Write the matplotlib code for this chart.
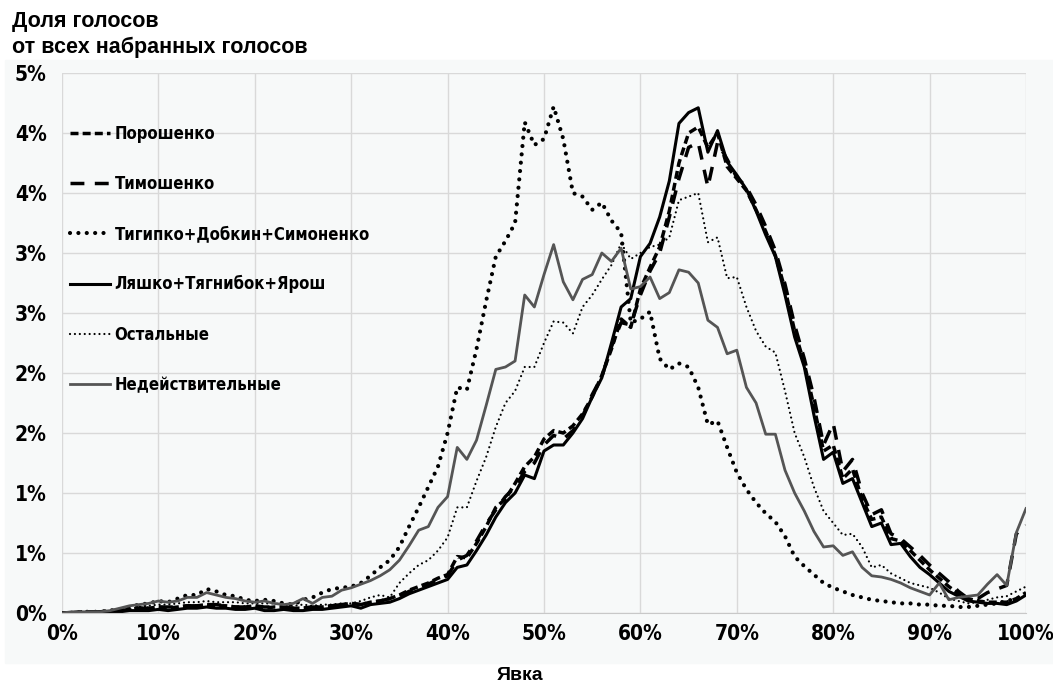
import math
import matplotlib
matplotlib.use('Agg')
import matplotlib.pyplot as plt
from matplotlib import font_manager
from matplotlib.font_manager import FontProperties
from matplotlib.patches import Rectangle
from matplotlib.ticker import FuncFormatter

# Явка, %
turnout = list(range(0, 101))

poroshenko = [0.00, 0.00, 0.01, 0.01, 0.01, 0.02, 0.02, 0.03, 0.04, 0.04,
              0.05, 0.04, 0.05, 0.06, 0.06, 0.07, 0.06, 0.06, 0.05, 0.05,
              0.06, 0.04, 0.05, 0.05, 0.04, 0.04, 0.05, 0.05, 0.06, 0.07,
              0.08, 0.07, 0.09, 0.10, 0.12, 0.15, 0.19, 0.22, 0.25, 0.29,
              0.32, 0.47, 0.46, 0.58, 0.72, 0.88, 0.95, 1.08, 1.22, 1.30,
              1.45, 1.52, 1.50, 1.56, 1.66, 1.80, 1.98, 2.20, 2.45, 2.38,
              2.70, 2.88, 3.05, 3.35, 3.75, 4.00, 4.05, 3.88, 4.00, 3.72,
              3.62, 3.52, 3.36, 3.18, 2.98, 2.70, 2.35, 2.08, 1.72, 1.35,
              1.40, 1.12, 1.20, 0.95, 0.78, 0.80, 0.62, 0.60, 0.52, 0.44,
              0.36, 0.29, 0.22, 0.16, 0.12, 0.10, 0.09, 0.09, 0.09, 0.12,
              0.17]

timoshenko = [0.00, 0.00, 0.01, 0.01, 0.01, 0.02, 0.02, 0.03, 0.04, 0.04,
              0.05, 0.05, 0.05, 0.06, 0.06, 0.07, 0.07, 0.06, 0.05, 0.05,
              0.06, 0.05, 0.05, 0.05, 0.04, 0.04, 0.05, 0.05, 0.06, 0.07,
              0.08, 0.07, 0.09, 0.10, 0.12, 0.14, 0.18, 0.21, 0.24, 0.28,
              0.31, 0.44, 0.48, 0.60, 0.74, 0.86, 0.97, 1.05, 1.18, 1.25,
              1.40, 1.48, 1.45, 1.52, 1.64, 1.82, 1.97, 2.22, 2.42, 2.40,
              2.65, 2.85, 3.00, 3.30, 3.62, 3.88, 3.92, 3.55, 3.92, 3.78,
              3.63, 3.55, 3.40, 3.22, 3.02, 2.74, 2.40, 2.12, 1.80, 1.40,
              1.58, 1.18, 1.28, 1.00, 0.82, 0.86, 0.66, 0.62, 0.55, 0.48,
              0.40, 0.33, 0.26, 0.18, 0.12, 0.12, 0.17, 0.20, 0.23, 0.66,
              0.73]

tigipko = [0.00, 0.00, 0.01, 0.01, 0.01, 0.02, 0.03, 0.05, 0.07, 0.08,
           0.10, 0.09, 0.12, 0.15, 0.15, 0.20, 0.18, 0.15, 0.14, 0.11,
           0.10, 0.11, 0.10, 0.08, 0.07, 0.11, 0.13, 0.17, 0.20, 0.21,
           0.22, 0.25, 0.31, 0.38, 0.44, 0.55, 0.72, 0.88, 1.05, 1.22,
           1.50, 1.88, 1.86, 2.20, 2.60, 2.97, 3.10, 3.25, 4.09, 3.90,
           3.95, 4.22, 3.95, 3.50, 3.47, 3.36, 3.42, 3.27, 3.17, 2.42,
           2.45, 2.51, 2.12, 2.03, 2.08, 2.05, 1.88, 1.57, 1.60, 1.38,
           1.17, 1.03, 0.92, 0.83, 0.76, 0.64, 0.47, 0.39, 0.32, 0.25,
           0.21, 0.18, 0.15, 0.13, 0.11, 0.10, 0.09, 0.08, 0.08, 0.07,
           0.07, 0.06, 0.06, 0.05, 0.05, 0.06, 0.07, 0.08, 0.10, 0.12,
           0.15]

lyashko = [0.00, 0.00, 0.00, 0.00, 0.01, 0.01, 0.01, 0.02, 0.02, 0.02,
           0.03, 0.02, 0.03, 0.04, 0.04, 0.05, 0.04, 0.04, 0.03, 0.03,
           0.04, 0.02, 0.02, 0.03, 0.02, 0.02, 0.03, 0.03, 0.04, 0.05,
           0.06, 0.04, 0.07, 0.08, 0.09, 0.12, 0.16, 0.19, 0.22, 0.25,
           0.28, 0.38, 0.40, 0.52, 0.65, 0.80, 0.92, 1.00, 1.15, 1.12,
           1.35, 1.40, 1.40, 1.50, 1.62, 1.80, 1.96, 2.25, 2.55, 2.62,
           2.97, 3.08, 3.30, 3.60, 4.08, 4.17, 4.21, 3.84, 4.02, 3.76,
           3.65, 3.53, 3.35, 3.15, 2.97, 2.65, 2.30, 2.05, 1.65, 1.28,
           1.34, 1.08, 1.12, 0.92, 0.72, 0.75, 0.57, 0.58, 0.47, 0.38,
           0.32, 0.25, 0.18, 0.14, 0.10, 0.09, 0.08, 0.08, 0.07, 0.10,
           0.15]

others = [0.00, 0.01, 0.01, 0.01, 0.01, 0.01, 0.02, 0.03, 0.05, 0.06,
          0.07, 0.07, 0.08, 0.09, 0.09, 0.10, 0.09, 0.09, 0.09, 0.08,
          0.08, 0.08, 0.08, 0.07, 0.06, 0.07, 0.06, 0.07, 0.07, 0.08,
          0.08, 0.10, 0.13, 0.15, 0.13, 0.25, 0.33, 0.40, 0.44, 0.52,
          0.63, 0.88, 0.88, 1.10, 1.30, 1.55, 1.75, 1.85, 2.05, 2.05,
          2.25, 2.43, 2.42, 2.33, 2.55, 2.65, 2.78, 2.90, 3.08, 2.95,
          3.00, 3.05, 3.07, 3.13, 3.44, 3.47, 3.50, 3.09, 3.13, 2.79,
          2.80, 2.55, 2.35, 2.22, 2.17, 1.85, 1.50, 1.30, 1.05, 0.85,
          0.75, 0.65, 0.66, 0.55, 0.38, 0.40, 0.33, 0.29, 0.25, 0.23,
          0.21, 0.17, 0.12, 0.10, 0.08, 0.09, 0.11, 0.13, 0.14, 0.18,
          0.22]

invalid = [0.00, 0.01, 0.01, 0.01, 0.01, 0.02, 0.04, 0.06, 0.07, 0.08,
           0.10, 0.09, 0.10, 0.13, 0.13, 0.17, 0.15, 0.13, 0.12, 0.10,
           0.09, 0.10, 0.08, 0.07, 0.08, 0.12, 0.08, 0.13, 0.14, 0.19,
           0.21, 0.24, 0.27, 0.31, 0.36, 0.44, 0.56, 0.69, 0.72, 0.88,
           0.97, 1.38, 1.28, 1.44, 1.73, 2.03, 2.05, 2.10, 2.65, 2.55,
           2.82, 3.07, 2.76, 2.61, 2.78, 2.82, 3.00, 2.93, 3.04, 2.70,
           2.72, 2.80, 2.62, 2.67, 2.86, 2.84, 2.75, 2.44, 2.38, 2.16,
           2.19, 1.88, 1.75, 1.49, 1.49, 1.19, 1.00, 0.85, 0.68, 0.55,
           0.56, 0.48, 0.51, 0.38, 0.31, 0.30, 0.28, 0.25, 0.21, 0.18,
           0.15, 0.25, 0.11, 0.13, 0.14, 0.15, 0.24, 0.32, 0.23, 0.67,
           0.87]

x_ticks = [0, 10, 20, 30, 40, 50, 60, 70, 80, 90, 100]
y_ticks = [0, 0.5, 1.0, 1.5, 2.0, 2.5, 3.0, 3.5, 4.0, 4.5]


# узкий жирный шрифт (как Calibri в оригинале), если найдётся
def narrow_bold(size):
    for key in ['LiberationSansNarrow-Bold.', 'DejaVuSansCondensed-Bold.']:
        for f in font_manager.fontManager.ttflist:
            if key in f.fname.replace('\\', '/').split('/')[-1]:
                return FontProperties(fname=f.fname, size=size)
    return FontProperties(family=['Roboto', 'DejaVu Sans'], weight='bold', size=size * 0.93)


title_font = ['Liberation Sans', 'DejaVu Sans']
tick_fp = narrow_bold(15)
legend_fp = narrow_bold(12)

fig = plt.figure(figsize=(10.53, 6.84), dpi=100)
# светло-серая подложка области диаграммы
fig.patches.append(Rectangle((0.005, 1 - 663 / 684), 0.995, (663 - 60) / 684,
                             transform=fig.transFigure, color='#f7f9f9', zorder=-5))

ax = fig.add_axes([62 / 1053, 71 / 684, 964 / 1053, 540 / 684], zorder=2)
ax.set_facecolor('#f7f9f9')

ax.plot(turnout, poroshenko, color='black', lw=2.5, linestyle=(0, (2.3, 1.2)),
        label='Порошенко')
ax.plot(turnout, timoshenko, color='black', lw=2.5, linestyle=(0, (4, 3)),
        label='Тимошенко')
ax.plot(turnout, tigipko, color='black', lw=3, linestyle=(0, (0.01, 2.0)),
        dash_capstyle='round', label='Тигипко+Добкин+Симоненко')
ax.plot(turnout, lyashko, color='black', lw=2.2, label='Ляшко+Тягнибок+Ярош')
ax.plot(turnout, others, color='black', lw=1.6, linestyle=(0, (0.01, 2.2)),
        dash_capstyle='round', label='Остальные')
ax.plot(turnout, invalid, color='#555555', lw=2, label='Недействительные')

ax.set_xlim(0, 100)
ax.set_ylim(0, 4.5)
ax.set_xticks(x_ticks)
ax.set_yticks(y_ticks)
ax.xaxis.set_major_formatter(FuncFormatter(lambda v, p: f'{int(v)}%'))
ax.yaxis.set_major_formatter(FuncFormatter(lambda v, p: f'{math.floor(v + 0.5 + 1e-9)}%'))
ax.grid(True, color='#d9d9d9', lw=1)
ax.set_axisbelow(True)
ax.tick_params(length=0)
ax.tick_params(axis='y', pad=11)
ax.tick_params(axis='x', pad=8)
for lab in ax.get_xticklabels() + ax.get_yticklabels():
    lab.set_fontproperties(tick_fp)
for side in ['top', 'right', 'left']:
    ax.spines[side].set_visible(False)
ax.spines['bottom'].set_color('#c8c8c8')

leg = ax.legend(loc='upper left', bbox_to_anchor=(0.008, 0.904), frameon=False,
                borderaxespad=0, borderpad=0, handlelength=2.4, handletextpad=0.3,
                labelspacing=1.93, prop=legend_fp)

fig.text(12 / 1053, 1 - 11 / 684, 'Доля голосов\nот всех набранных голосов',
         ha='left', va='top', fontsize=15.5, fontweight='bold', family=title_font,
         linespacing=1.3)
fig.text(520 / 1053, 1 - 676 / 684, 'Явка', ha='center', va='center',
         fontsize=14, fontweight='bold', family=title_font)

fig.savefig('out.png', dpi=100)
